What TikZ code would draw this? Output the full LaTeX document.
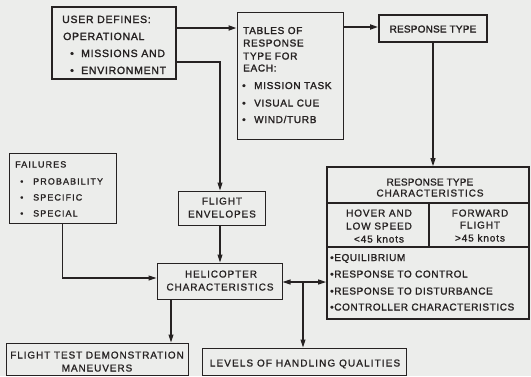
\documentclass[tikz,border=0pt]{standalone}
\usepackage{fontspec}
\setmainfont{Liberation Sans}
\newfontfamily\fa{Liberation Sans}[LetterSpace=9,FakeBold=1.2]
\newfontfamily\fb{Liberation Sans}[LetterSpace=12,FakeBold=1.2]
\newfontfamily\fc{Liberation Sans}[LetterSpace=2,FakeBold=2.2]
\newfontfamily\fd{Liberation Sans}[LetterSpace=6,FakeBold=1.6]
\newfontfamily\fe{Liberation Sans}[LetterSpace=11,FakeBold=1.2]
\newfontfamily\ff{Liberation Sans}[LetterSpace=7,FakeBold=1.8]
\newfontfamily\fg{Liberation Sans}[LetterSpace=2,FakeBold=1.2]
\usetikzlibrary{arrows.meta,calc}
\definecolor{bg}{RGB}{236,237,235}
\definecolor{ink}{RGB}{38,34,34}
\begin{document}
\begin{tikzpicture}[x=1pt,y=-1pt,
  box/.style={draw=ink, line width=1pt, inner sep=0pt, rectangle},
  tbox/.style={box, line width=1.8pt},
  conn/.style={draw=ink, line width=1.1pt},
  arr/.style={conn, -{Triangle[length=8pt,width=5pt]}},
  darr/.style={conn, {Triangle[length=8pt,width=5pt]}-{Triangle[length=8pt,width=5pt]}},
  tx/.style={inner sep=0pt, text=ink, font=\fa\fontsize{10}{12}\selectfont, anchor=base west},
  tc/.style={tx, anchor=base},
  ux/.style={tx, font=\ff\fontsize{10.5}{12}\selectfont},
  tb/.style={tx, font=\ff\fontsize{10}{12}\selectfont},
  fx/.style={tx, font=\fb\fontsize{9}{12}\selectfont},
  bx/.style={tx, font=\fd\fontsize{10}{12}\selectfont},
]
\fill[bg] (0,0) rectangle (531,376);
\useasboundingbox (0,0) rectangle (531,376);

% boxes
\node[tbox, minimum width=124pt, minimum height=72pt] (user) at (114,43) {};
\node[box, minimum width=106pt, minimum height=127pt] (tables) at (290,75.5) {};
\node[tbox, minimum width=108pt, minimum height=27pt] (resp) at (433,28.5) {};
\node[tbox, minimum width=202pt, minimum height=152pt] (char) at (428,243) {};
\node[box, minimum width=107pt, minimum height=70pt] (fail) at (62.5,188) {};
\node[box, minimum width=87pt, minimum height=34pt] (env) at (221.5,208) {};
\node[box, minimum width=125pt, minimum height=36pt] (heli) at (219.5,281) {};
\node[box, minimum width=182pt, minimum height=32pt] (ftest) at (97,359) {};
\node[box, minimum width=204pt, minimum height=27pt] (levels) at (304,361.5) {};

% characteristics internal rules
\draw[ink, line width=1.5pt] ([yshift=40pt]char.west) -- ([yshift=40pt]char.east);
\draw[ink, line width=1.5pt] ([yshift=-4pt]char.west) -- ([yshift=-4pt]char.east);
\draw[ink, line width=1.3pt] ([xshift=1pt,yshift=40pt]char.center) -- ([xshift=1pt,yshift=-4pt]char.center);

% connector points
\coordinate (u1) at ([yshift=15pt]user.east);
\coordinate (u2) at ([yshift=-19pt]user.east);
\coordinate (envtop) at ([xshift=-1.5pt]env.north);
\coordinate (envbot) at ([xshift=-1.5pt]env.south);
\coordinate (t1) at ([yshift=48.5pt]tables.east);
\coordinate (hl) at ([yshift=3pt]heli.west);
\coordinate (h2) at ([yshift=-1pt]heli.east);
\coordinate (lvtop) at ([xshift=-1pt]levels.north);
\coordinate (br) at (lvtop |- h2);
\coordinate (hb) at ([xshift=-48.5pt]heli.south);

% connectors
\draw[arr, line width=1.7pt] (u1) -- (u1 -| tables.west);
\draw[arr, line width=1.7pt] (t1) -- (t1 -| resp.west);
\draw[arr] (u2) -- (envtop |- u2) -- (envtop);
\draw[arr] (resp.south) -- (resp.south |- char.north);
\draw[arr] (fail.south) -- (fail.south |- hl) -- (hl);
\draw[arr] (envbot) -- (envbot |- heli.north);
\draw[darr] (h2) -- (h2 -| char.west);
\draw[arr] (br) -- (lvtop);
\draw[arr] (hb) -- (hb |- ftest.north);

% user text
\node[ux] (ua) at (62,23) {USER DEFINES:};
\node[ux] (ub) at (63,40) {OPERATIONAL};
\node[ux] (uc) at (70,57) {•};
\node[ux] (ud) at (81,57) {MISSIONS AND};
\node[ux] (ue) at (70,74) {•};
\node[ux] (uf) at (81,74) {ENVIRONMENT};

% tables text
\node[tb] (ta) at (243,34) {TABLES OF};
\node[tb] (tb1) at (243,46.5) {RESPONSE};
\node[tb] (tb2) at (243,59.5) {TYPE FOR};
\node[tb] (tb3) at (243,71.5) {EACH:};
\node[tb] (tb4) at (242,89) {•};
\node[tb] (tb5) at (254,89) {MISSION TASK};
\node[tb] (tb6) at (242,106.5) {•};
\node[tb] (tb7) at (254,106.5) {VISUAL CUE};
\node[tb] (tb8) at (242,123) {•};
\node[tb] (tb9) at (254,123) {WIND/TURB};

% response type
\node[tc, font=\fc\fontsize{10}{12}\selectfont] (ra) at (433,32.5) {RESPONSE TYPE};

% characteristics text
\node[tc, font=\fg\fontsize{10}{12}\selectfont] (ca) at (430,185.5) {RESPONSE TYPE};
\node[tc] (cb) at (430,196.5) {CHARACTERISTICS};
\node[tc] (cc) at (379,216.5) {HOVER AND};
\node[tc] (cd) at (379,229.5) {LOW SPEED};
\node[tc] (ce) at (379,242.5) {<45 knots};
\node[tc] (cf) at (480,216.5) {FORWARD};
\node[tc] (cg) at (480,228.5) {FLIGHT};
\node[tc] (ch) at (480,241.5) {>45 knots};
\node[bx] (ci) at (330,261) {•EQUILIBRIUM};
\node[bx] (cj) at (330,277.5) {•RESPONSE TO CONTROL};
\node[bx] (ck) at (330,294.5) {•RESPONSE TO DISTURBANCE};
\node[bx] (cl) at (330,310.5) {•CONTROLLER CHARACTERISTICS};

% failures text
\node[fx] (fa) at (15,167.5) {FAILURES};
\node[fx] (fb1) at (20,184.5) {•};
\node[fx] (fb2) at (33,184.5) {PROBABILITY};
\node[fx] (fc1) at (20,200.5) {•};
\node[fx] (fc2) at (33,200.5) {SPECIFIC};
\node[fx] (fd1) at (20,216.5) {•};
\node[fx] (fd2) at (33,216.5) {SPECIAL};

% flight envelopes
\node[tc] (ea) at (222,204.5) {FLIGHT};
\node[tc] (eb) at (222,217.5) {ENVELOPES};

% helicopter
\node[tc] (ha) at (221,277.5) {HELICOPTER};
\node[tc] (hb2) at (220,290.5) {CHARACTERISTICS};

% flight test
\node[tc] (fta) at (97,358.5) {FLIGHT TEST DEMONSTRATION};
\node[tc] (ftb) at (97,371.5) {MANEUVERS};

% levels
\node[tc, font=\fe\fontsize{10}{12}\selectfont] (la) at (305,366.5) {LEVELS OF HANDLING QUALITIES};
\end{tikzpicture}
\end{document}
